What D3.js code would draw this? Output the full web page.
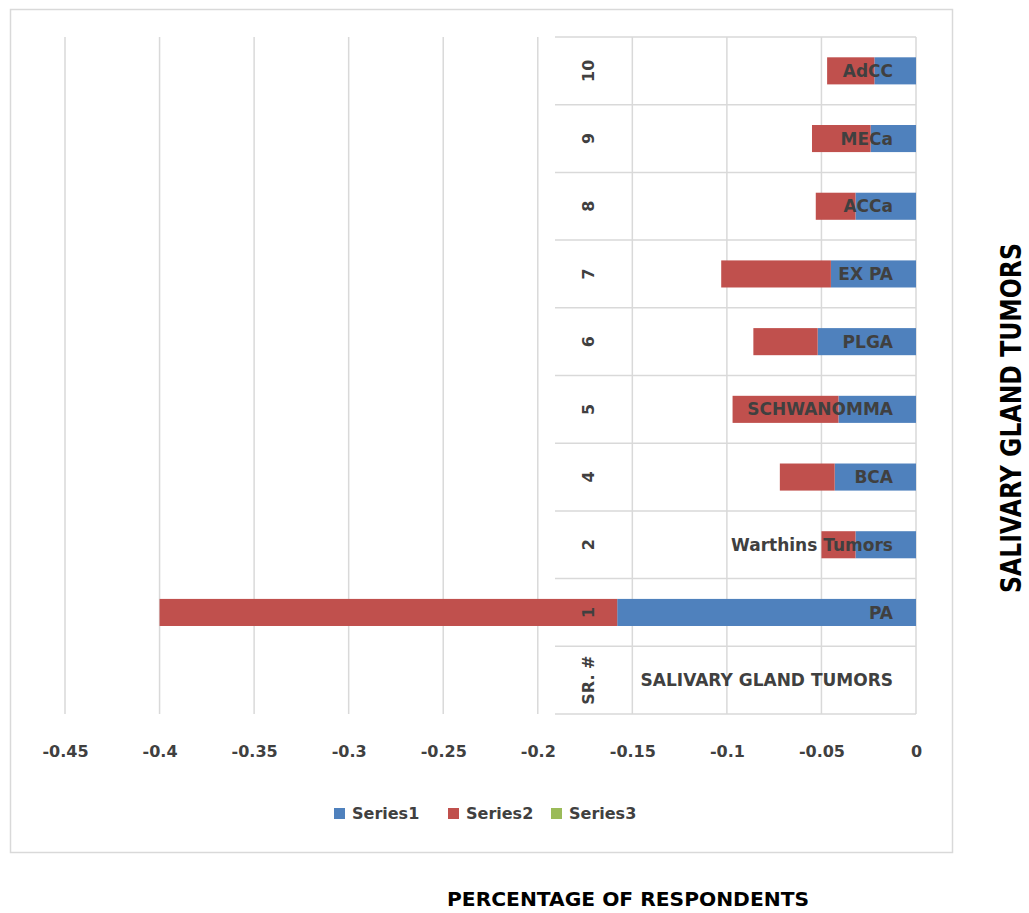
<!DOCTYPE html>
<html>
<head>
<meta charset="utf-8">
<script src="https://cdn.jsdelivr.net/npm/d3@7"></script>
<style>
  html, body { margin: 0; padding: 0; background: #fff; }
  svg { display: block; }
</style>
</head>
<body>
<svg id="chart" width="1029" height="913"></svg>
<script>
// Serial numbers and tumour names, bottom row first
const serials = ["1", "2", "4", "5", "6", "7", "8", "9", "10"];
const tumors = ["PA", "Warthins Tumors", "BCA", "SCHWANOMMA", "PLGA", "EX PA", "ACCa", "MECa", "AdCC"];
const headerSerial = "SR. #";
const headerTumor = "SALIVARY GLAND TUMORS";

// Stacked series (negative direction)
const series1 = [-0.158, -0.032, -0.043, -0.041, -0.052, -0.045, -0.032, -0.024, -0.022];
const series2 = [-0.242, -0.018, -0.029, -0.056, -0.034, -0.058, -0.021, -0.031, -0.025];
const series3 = [0, 0, 0, 0, 0, 0, 0, 0, 0];
const seriesNames = ["Series1", "Series2", "Series3"];
const seriesColors = ["#4f81bd", "#c0504d", "#9bbb59"];

const xTicks = [-0.45, -0.4, -0.35, -0.3, -0.25, -0.2, -0.15, -0.1, -0.05, 0];
const xTitle = "PERCENTAGE OF RESPONDENTS";
const yTitle = "SALIVARY GLAND TUMORS";

const svg = d3.select("#chart");
const FONT = "'DejaVu Sans', sans-serif";
const grid = "#d9d9d9";

// outer chart frame
svg.append("rect")
  .attr("x", 10.5).attr("y", 9.5).attr("width", 942).attr("height", 843)
  .attr("fill", "#fff").attr("stroke", "#d9d9d9").attr("stroke-width", 1.5);

const x = d3.scaleLinear().domain([-0.45, 0]).range([65, 916]);
const rows = [headerSerial].concat(serials);
const y = d3.scaleBand().domain(rows).range([714, 37]);
const tableLeft = 555;

// vertical gridlines
svg.append("g").selectAll("line").data(xTicks).join("line")
  .attr("x1", d => x(d)).attr("x2", d => x(d))
  .attr("y1", 37).attr("y2", 714)
  .attr("stroke", grid).attr("stroke-width", 1.5);

// row separators of the category table
const bounds = rows.map(r => y(r)).concat([y(rows[0]) + y.bandwidth()]);
svg.append("g").selectAll("line").data(bounds).join("line")
  .attr("x1", tableLeft).attr("x2", x(0))
  .attr("y1", d => d).attr("y2", d => d)
  .attr("stroke", grid).attr("stroke-width", 1.5);

// stacked bars
const barH = y.bandwidth() * 0.4;
const stacks = serials.map((s, i) => {
  const a = series1[i], b = series2[i], c = series3[i];
  return [
    { key: 0, s, x0: 0, x1: a },
    { key: 1, s, x0: a, x1: a + b },
    { key: 2, s, x0: a + b, x1: a + b + c }
  ];
}).flat();

svg.append("g").selectAll("rect").data(stacks).join("rect")
  .attr("x", d => x(Math.min(d.x0, d.x1)))
  .attr("width", d => Math.abs(x(d.x1) - x(d.x0)))
  .attr("y", d => y(d.s) + (y.bandwidth() - barH) / 2)
  .attr("height", barH)
  .attr("fill", d => seriesColors[d.key]);

// x axis tick labels
const fmt = d => d === 0 ? "0" : String(d);
const xAxis = d3.axisBottom(x).tickValues(xTicks).tickFormat(fmt).tickSize(0).tickPadding(0);
const ax = svg.append("g").attr("transform", "translate(0,745)").call(xAxis);
ax.select(".domain").remove();
ax.selectAll("text")
  .attr("font-family", FONT).attr("font-size", 16).attr("font-weight", "bold")
  .attr("fill", "#404040").attr("dy", "0.73em");

// category table labels: serial numbers (rotated) and tumour names
const numX = 588;
svg.append("g").selectAll("text").data(rows).join("text")
  .attr("transform", d => `translate(${numX},${y(d) + y.bandwidth() / 2}) rotate(-90)`)
  .attr("text-anchor", "middle").attr("dy", "0.36em")
  .attr("font-family", FONT).attr("font-size", 16).attr("font-weight", "bold")
  .attr("fill", "#404040")
  .text(d => d);

const names = [headerTumor].concat(tumors);
svg.append("g").selectAll("text").data(rows).join("text")
  .attr("x", 893)
  .attr("y", d => y(d) + y.bandwidth() / 2)
  .attr("text-anchor", "end").attr("dy", "0.36em")
  .attr("font-family", FONT).attr("font-size", 17).attr("font-weight", "bold")
  .attr("fill", "#404040")
  .text((d, i) => names[i]);

// legend
const legX = [334, 448, 551];
const leg = svg.append("g").selectAll("g").data(seriesNames).join("g")
  .attr("transform", (d, i) => `translate(${legX[i]},808)`);
leg.append("rect").attr("width", 11).attr("height", 11)
  .attr("fill", (d, i) => seriesColors[i]);
leg.append("text").attr("x", 18).attr("y", 10.5)
  .attr("font-family", FONT).attr("font-size", 16).attr("font-weight", "bold")
  .attr("fill", "#404040").text(d => d);

// axis titles
svg.append("text")
  .attr("x", 628).attr("y", 906)
  .attr("text-anchor", "middle")
  .attr("textLength", 362).attr("lengthAdjust", "spacingAndGlyphs")
  .attr("font-family", FONT).attr("font-size", 20).attr("font-weight", "bold")
  .attr("fill", "#000").text(xTitle);

svg.append("text")
  .attr("transform", "translate(1021,418) rotate(-90)")
  .attr("text-anchor", "middle")
  .attr("textLength", 350).attr("lengthAdjust", "spacingAndGlyphs")
  .attr("font-family", FONT).attr("font-size", 29).attr("font-weight", "bold")
  .attr("fill", "#000").text(yTitle);
</script>
</body>
</html>
